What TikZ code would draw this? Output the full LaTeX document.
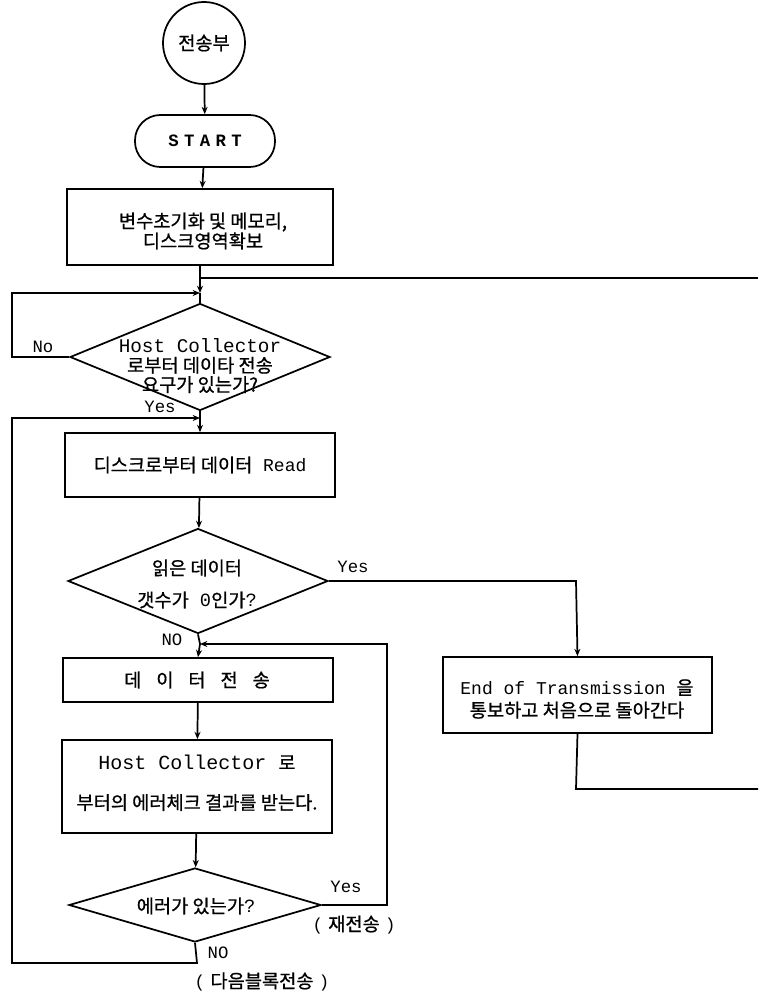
\documentclass[tikz,border=0pt]{standalone}
\usepackage{fontspec}
\setmainfont{Liberation Mono}
\newfontfamily\K{Noto Sans CJK KR}[FakeBold=0.8]
\usetikzlibrary{shapes.geometric,arrows.meta}
\newcommand\ko{\K\fontsize{14pt}{15pt}\selectfont}
\begin{document}
\begin{tikzpicture}[x=0.75pt,y=-0.75pt,
  every path/.style={line width=1.3pt},
  arr/.style={-{Stealth[length=5.5pt,width=4.5pt]}},
  box/.style={draw,rectangle,inner sep=0pt,align=center},
  dia/.style={draw,diamond,inner sep=0pt},
  txt/.style={inner sep=0pt,align=center},
  lab/.style={inner sep=0pt,font=\fontsize{13pt}{14pt}\selectfont}]
\useasboundingbox (0,0) rectangle (758,992);

% nodes
\node[circle,draw,minimum size=61.5pt,inner sep=0pt] (c0) at (204,43) {\ko 전송부};
\node[draw,rounded corners=19pt,minimum width=105pt,minimum height=39pt,inner sep=0pt,font=\fontsize{13pt}{14pt}\selectfont\bfseries] (st) at (205,141) {S\hspace{4pt}T\hspace{4pt}A\hspace{4pt}R\hspace{4pt}T};
\node[box,minimum width=199.5pt,minimum height=57pt] (b1) at (200,227) {};
\node[txt,font=\fontsize{14pt}{15pt}\selectfont] (t1) at (203,231) {{\ko 변수초기화 및 메모리,}\\{\ko 디스크영역확보}};

\node[dia,minimum width=195pt,minimum height=80.25pt] (d2) at (200,357) {};
\node[txt,font=\fontsize{14.5pt}{14.5pt}\selectfont] (t2) at (200,366) {Host Collector\\{\ko 로부터 데이타 전송}\\{\ko 요구가 있는가?}};

\node[box,minimum width=202.5pt,minimum height=48pt] (b3) at (200,465) {};
\node[txt,font=\fontsize{13.5pt}{14pt}\selectfont] (t3) at (200,465) {{\ko 디스크로부터 데이터} Read};

\node[dia,minimum width=195pt,minimum height=78.75pt] (d4) at (198,581) {};
\node[txt,font=\fontsize{14pt}{24pt}\selectfont] (t4) at (197,584) {{\ko 읽은 데이터}\\{\ko 갯수가} 0{\ko 인가}?};

\node[box,minimum width=202.5pt,minimum height=33pt] (b5) at (198,680) {};
\node[txt] (t5) at (197,680) {\ko 데\hspace{0.8em}이\hspace{0.8em}터\hspace{0.8em}전\hspace{0.8em}송};

\node[box,minimum width=202.5pt,minimum height=69.75pt] (b6) at (197,786.5) {};
\node[txt,font=\fontsize{15pt}{30pt}\selectfont] (t6) at (197,783) {Host Collector {\ko 로}\\{\ko 부터의 에러체크 결과를 받는다.}};

\node[dia,minimum width=189pt,minimum height=55.5pt] (d7) at (195,905) {};
\node[txt] (t7) at (196,906) {{\ko 에러가 있는가}\fontsize{14pt}{14pt}\selectfont ?};

\node[box,minimum width=201.75pt,minimum height=57pt] (be) at (577.5,695) {};
\node[txt,font=\fontsize{13.5pt}{17pt}\selectfont] (te) at (577,699) {End of Transmission {\ko 을}\\{\ko 통보하고 처음으로 돌아간다}};

% labels
\node[lab] (lno1) at (43,347) {No};
\node[lab] (lyes1) at (160,407) {Yes};
\node[lab] (lyes2) at (353,567) {Yes};
\node[lab] (lno2) at (172,640) {NO};
\node[lab] (lyes3) at (346,887) {Yes};
\node[lab] (lre) at (354,925) {(\hspace{4pt}{\ko 재전송}\hspace{4pt})};
\node[lab] (lno3) at (218,953) {NO};
\node[lab] (lnext) at (262,982) {(\hspace{4pt}{\ko 다음블록전송}\hspace{4pt})};

% coordinates
\coordinate (j1) at (200,293);
\coordinate (j0) at (200,278);
\coordinate (r1) at (758,278);
\coordinate (j2) at (200,418);
\coordinate (j3) at (200,644);
\coordinate (r2) at (758,789);

% connectors
\draw[arr] (c0) -- (st);
\draw[arr] (st) -- (b1);
\draw[arr] (b1.south) -- (j1);
\draw (j1) -- (d2.north);
\draw (r1) -- (j0);
\draw[arr] (d2.west) -- (12,357) -- (12,293) -- (j1);
\draw (d2.south) -- (j2);
\draw[arr] (j2) -- (b3.north);
\draw[arr] (d7.south) -- (197,963) -- (12,963) -- (12,418) -- (j2);
\draw[arr] (b3) -- (d4);
\draw[arr] (d4.east) -- (576,581) -- (be.north);
\draw (d4.south) -- (j3);
\draw[arr] (j3) -- (b5.north);
\draw[arr] (b5) -- (b6);
\draw[arr] (b6) -- (d7);
\draw[arr] (d7.east) -- (387,905) -- (387,644) -- (j3);
\draw (be.south) -- (576,789) -- (r2);
\end{tikzpicture}
\end{document}
